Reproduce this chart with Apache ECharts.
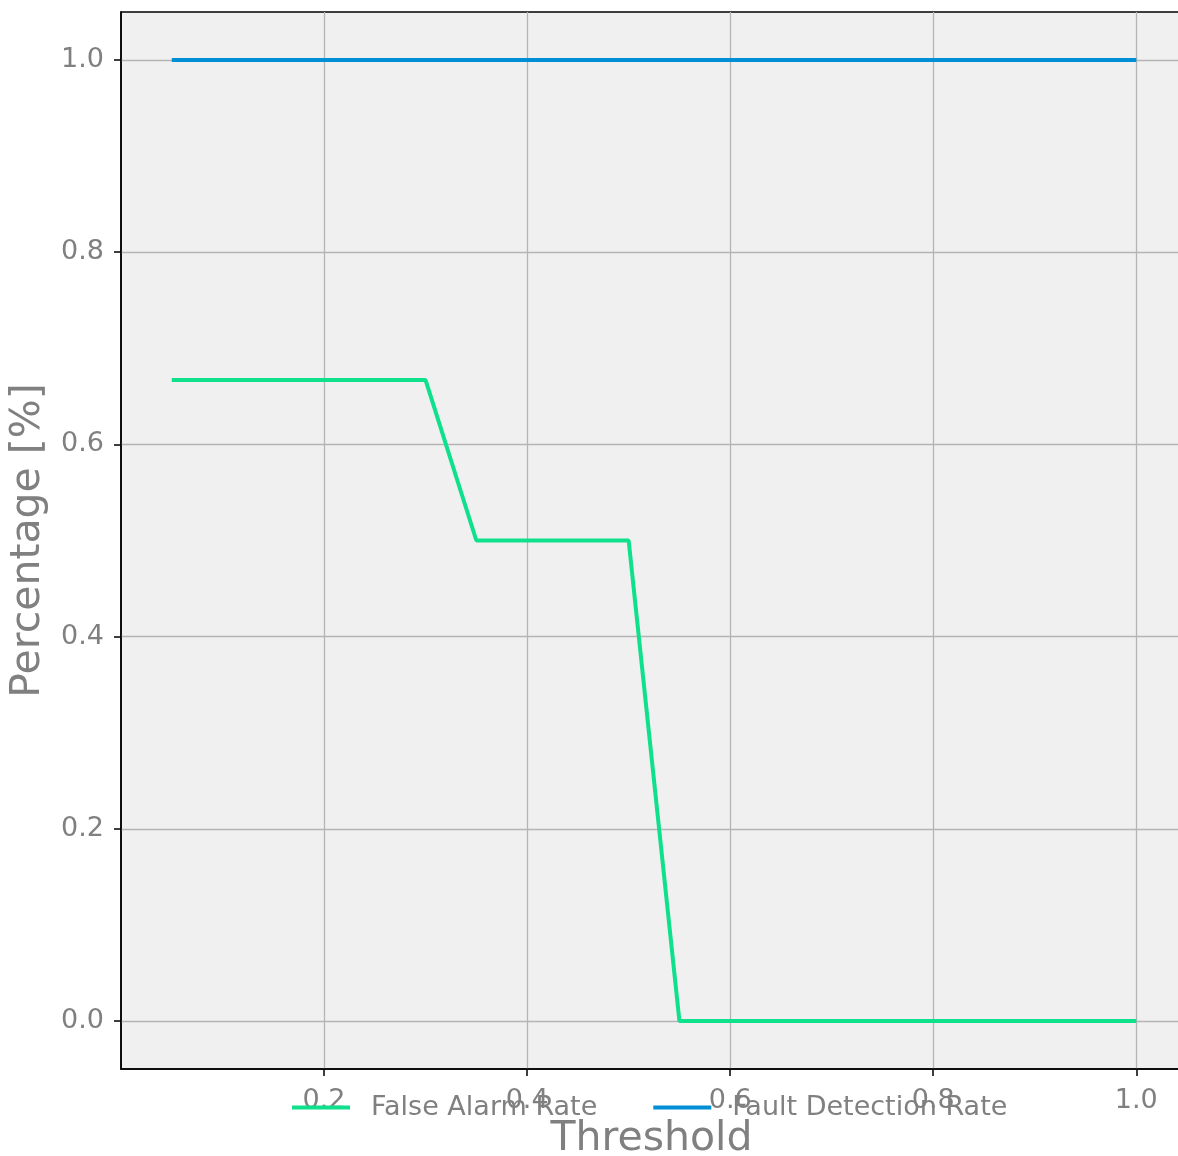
<!DOCTYPE html>
<html>
<head>
<meta charset="utf-8">
<script src="https://cdn.jsdelivr.net/npm/echarts@6/dist/echarts.min.js"></script>
<style>
  html, body { margin: 0; padding: 0; background: #ffffff; overflow: hidden; }
  #chart { width: 1190px; height: 1156px; }
</style>
</head>
<body>
<div id="chart"></div>
<script>
// thresholds and rates
const thresholds = [0.05, 0.10, 0.15, 0.20, 0.25, 0.30, 0.35, 0.40, 0.45, 0.50,
                    0.55, 0.60, 0.65, 0.70, 0.75, 0.80, 0.85, 0.90, 0.95, 1.00];
const falseAlarmRate = [0.667, 0.667, 0.667, 0.667, 0.667, 0.667, 0.5, 0.5, 0.5, 0.5,
                        0, 0, 0, 0, 0, 0, 0, 0, 0, 0];
const faultDetectionRate = [1, 1, 1, 1, 1, 1, 1, 1, 1, 1,
                            1, 1, 1, 1, 1, 1, 1, 1, 1, 1];
const xTicks = [0.2, 0.4, 0.6, 0.8, 1.0];
const yTicks = [0.0, 0.2, 0.4, 0.6, 0.8, 1.0];

const textGray = '#808080';
const gridGray = '#b4b4b4';

const chart = echarts.init(document.getElementById('chart'));

const pairs = (ys) => thresholds.map((x, i) => [x, ys[i]]);

chart.setOption({
  animation: false,
  textStyle: { fontFamily: 'DejaVu Sans' },
  grid: {
    left: 121, top: 12, width: 1061, height: 1057,
    outerBoundsMode: 'none',
    show: true,
    backgroundColor: '#f0f0f0',
    borderColor: '#000000',
    borderWidth: 1.5
  },
  legend: {
    left: 287, top: 1089,
    itemWidth: 58, itemHeight: 4, itemGap: 56,
    icon: 'rect',
    textStyle: { color: textGray, fontSize: 27, padding: [0, 0, 0, 16] },
    data: ['False Alarm Rate', 'Fault Detection Rate']
  },
  xAxis: {
    type: 'value',
    min: 0, max: 1.045,
    name: 'Threshold',
    nameLocation: 'middle',
    nameGap: 48,
    nameTextStyle: { color: textGray, fontSize: 41 },
    axisLine: { show: true, onZero: false, lineStyle: { color: '#000000', width: 1.5 } },
    axisTick: { show: true, length: 7, customValues: xTicks, lineStyle: { color: '#000000', width: 1.5 } },
    axisLabel: {
      customValues: xTicks, color: textGray, fontSize: 27, margin: 18,
      formatter: (v) => v.toFixed(1)
    },
    splitLine: { show: true, lineStyle: { color: gridGray, width: 1.3 } }
  },
  yAxis: {
    type: 'value',
    min: -0.05, max: 1.05,
    name: 'Percentage [%]',
    nameLocation: 'middle',
    nameGap: 72,
    nameTextStyle: { color: textGray, fontSize: 41 },
    axisLine: { show: true, onZero: false, lineStyle: { color: '#000000', width: 1.5 } },
    axisTick: { show: true, length: 7, customValues: yTicks, lineStyle: { color: '#000000', width: 1.5 } },
    axisLabel: {
      customValues: yTicks, color: textGray, fontSize: 27, margin: 17,
      formatter: (v) => v.toFixed(1)
    },
    splitLine: { show: true, lineStyle: { color: gridGray, width: 1.3 } }
  },
  series: [
    {
      name: 'False Alarm Rate',
      type: 'line',
      data: pairs(falseAlarmRate),
      symbol: 'none',
      color: '#0ee08c',
      lineStyle: { width: 4 }
    },
    {
      name: 'Fault Detection Rate',
      type: 'line',
      data: pairs(faultDetectionRate),
      symbol: 'none',
      color: '#008fd5',
      lineStyle: { width: 4 }
    }
  ]
});
</script>
</body>
</html>
